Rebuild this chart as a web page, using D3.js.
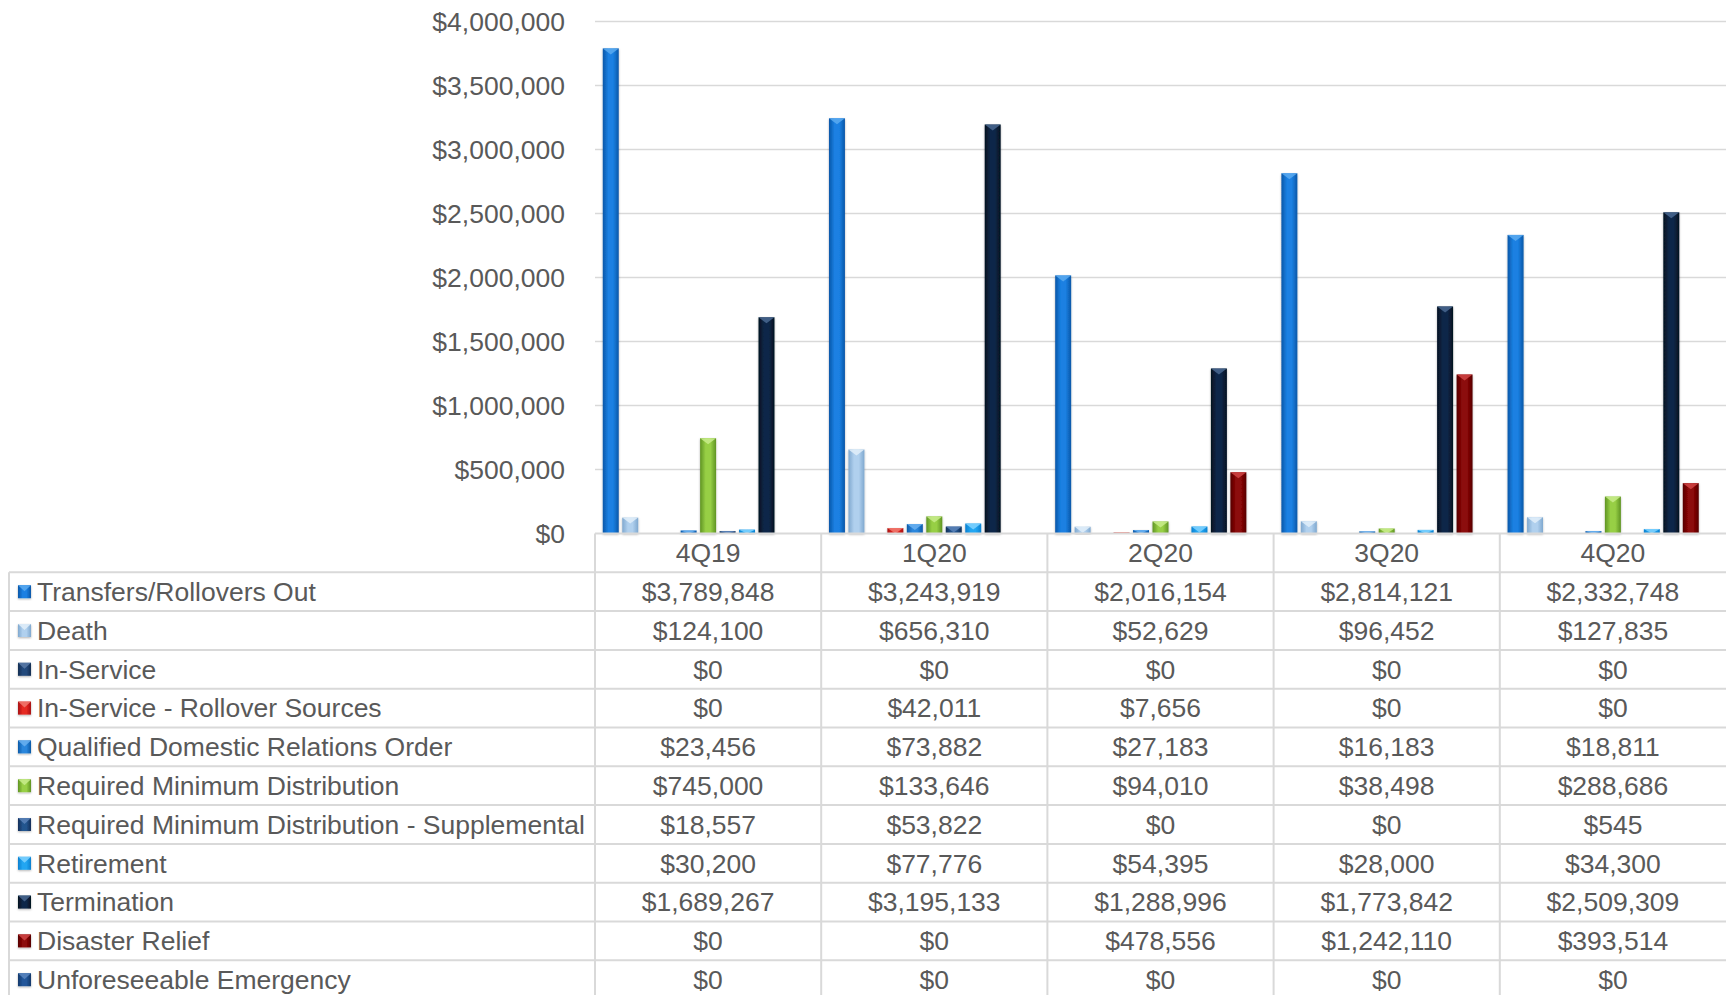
<!DOCTYPE html>
<html>
<head>
<meta charset="utf-8">
<script src="https://cdn.jsdelivr.net/npm/d3@7"></script>
<style>
  body { margin: 0; background: #fff; }
  text { font-family: "Liberation Sans", Arial, sans-serif; fill: #595959; }
</style>
</head>
<body>
<svg id="chart" width="1726" height="995"></svg>
<script>
// quarters along the x axis
var quarters = ["4Q19", "1Q20", "2Q20", "3Q20", "4Q20"];

// one array per distribution type, values
var transfersOut = [3789848, 3243919, 2016154, 2814121, 2332748];
var death = [124100, 656310, 52629, 96452, 127835];
var inService = [0, 0, 0, 0, 0];
var inServiceRollover = [0, 42011, 7656, 0, 0];
var qdro = [23456, 73882, 27183, 16183, 18811];
var rmd = [745000, 133646, 94010, 38498, 288686];
var rmdSupplemental = [18557, 53822, 0, 0, 545];
var retirement = [30200, 77776, 54395, 28000, 34300];
var termination = [1689267, 3195133, 1288996, 1773842, 2509309];
var disasterRelief = [0, 0, 478556, 1242110, 393514];
var unforeseeable = [0, 0, 0, 0, 0];

var seriesNames = [
  "Transfers/Rollovers Out", "Death", "In-Service", "In-Service - Rollover Sources",
  "Qualified Domestic Relations Order", "Required Minimum Distribution",
  "Required Minimum Distribution - Supplemental", "Retirement", "Termination",
  "Disaster Relief", "Unforeseeable Emergency"
];
var seriesValues = [
  transfersOut, death, inService, inServiceRollover, qdro, rmd,
  rmdSupplemental, retirement, termination, disasterRelief, unforeseeable
];

var yTicks = [0, 500000, 1000000, 1500000, 2000000, 2500000, 3000000, 3500000, 4000000];

// [edge, middle, top bevel] for each series
var seriesColors = [
  ["#0a57a8", "#1a80e2", "#5aaaf0"],
  ["#7fa8cf", "#b0d0ee", "#e2eef9"],
  ["#122d52", "#24497c", "#5a7aa8"],
  ["#a81010", "#e52a22", "#f07a70"],
  ["#0d5aa8", "#2a86dc", "#6ab0f0"],
  ["#5f9424", "#97cf45", "#c8ec8c"],
  ["#112f58", "#24548e", "#5a82b8"],
  ["#0a80d0", "#22a6f2", "#80d2ff"],
  ["#04111f", "#0f2748", "#4a6890"],
  ["#560000", "#8c0808", "#d04545"],
  ["#12386a", "#22579a", "#5a86c0"]
];

var svg = d3.select("#chart"),
    width = +svg.attr("width");

var plotLeft = 595,
    plotRight = 1726,
    plotTop = 21.5,
    plotBottom = 533.5,
    rowH = 38.8,
    tableLeft = 9,
    fontSize = "26.5px",
    gridColor = "#d9d9d9";

var x0 = d3.scaleBand()
    .domain(quarters)
    .range([plotLeft, plotRight])
    .padding(0);

var x1 = d3.scaleBand()
    .domain(d3.range(seriesNames.length))
    .range([0, x0.bandwidth()])
    .paddingInner(0.18)
    .paddingOuter(0.4);

var y = d3.scaleLinear()
    .domain([0, 4000000])
    .range([plotBottom, plotTop]);

var money = d3.format("$,");

// gradients and shadow
var defs = svg.append("defs");
seriesColors.forEach(function(c, i) {
  var g = defs.append("linearGradient")
      .attr("id", "grad" + i)
      .attr("x1", "0%").attr("x2", "100%")
      .attr("y1", "0%").attr("y2", "0%");
  g.append("stop").attr("offset", "0%").attr("stop-color", c[0]);
  g.append("stop").attr("offset", "35%").attr("stop-color", c[1]);
  g.append("stop").attr("offset", "65%").attr("stop-color", c[1]);
  g.append("stop").attr("offset", "100%").attr("stop-color", c[0]);
});
var shadow = defs.append("filter").attr("id", "shadow")
    .attr("x", "-50%").attr("y", "-10%").attr("width", "200%").attr("height", "130%");
shadow.append("feDropShadow")
    .attr("dx", 0).attr("dy", 1).attr("stdDeviation", 1.2)
    .attr("flood-color", "#000").attr("flood-opacity", 0.3);

// gridlines and y axis labels
var yAxis = svg.append("g").attr("class", "y-axis");
yAxis.selectAll("line")
  .data(yTicks.filter(function(d) { return d > 0; }))
  .enter().append("line")
    .attr("x1", plotLeft).attr("x2", plotRight)
    .attr("y1", function(d) { return y(d); })
    .attr("y2", function(d) { return y(d); })
    .attr("stroke", gridColor)
    .attr("stroke-width", 1.5);
yAxis.selectAll("text")
  .data(yTicks)
  .enter().append("text")
    .attr("x", plotLeft - 30)
    .attr("y", function(d) { return y(d); })
    .attr("dy", "0.35em")
    .attr("text-anchor", "end")
    .attr("font-size", fontSize)
    .text(function(d) { return money(d); });

// bevelled bar: gradient body plus a light triangle on top
function drawBar(g, x, top, w, h, i) {
  g.append("rect")
    .attr("x", x).attr("y", top)
    .attr("width", w).attr("height", h)
    .attr("fill", "url(#grad" + i + ")")
    .attr("filter", "url(#shadow)");
  var t = Math.min(6, h);
  g.append("polygon")
    .attr("points", [[x, top], [x + w, top], [x + w / 2, top + t]].join(" "))
    .attr("fill", seriesColors[i][2])
    .attr("opacity", 0.85);
}

var bars = svg.append("g").attr("class", "bars");
quarters.forEach(function(q, qi) {
  seriesValues.forEach(function(vals, si) {
    var v = vals[qi];
    if (v <= 0) return;
    var top = y(v), h = plotBottom - top;
    drawBar(bars, x0(q) + x1(si), top, x1.bandwidth(), h, si);
  });
});

// data table underneath the chart
var table = svg.append("g").attr("class", "table");
var headerTop = plotBottom,
    rowsTop = plotBottom + rowH,
    tableBottom = rowsTop + seriesNames.length * rowH;

// horizontal lines
table.append("line")
    .attr("x1", plotLeft).attr("x2", plotRight)
    .attr("y1", headerTop).attr("y2", headerTop)
    .attr("stroke", gridColor).attr("stroke-width", 2);
d3.range(seriesNames.length + 1).forEach(function(r) {
  var ly = rowsTop + r * rowH;
  table.append("line")
      .attr("x1", tableLeft).attr("x2", plotRight)
      .attr("y1", ly).attr("y2", ly)
      .attr("stroke", gridColor).attr("stroke-width", 2);
});
// vertical lines
table.append("line")
    .attr("x1", tableLeft).attr("x2", tableLeft)
    .attr("y1", rowsTop).attr("y2", tableBottom)
    .attr("stroke", gridColor).attr("stroke-width", 2);
quarters.forEach(function(q) {
  table.append("line")
      .attr("x1", x0(q)).attr("x2", x0(q))
      .attr("y1", headerTop).attr("y2", tableBottom)
      .attr("stroke", gridColor).attr("stroke-width", 2);
});

// quarter headers
table.selectAll("text.header")
  .data(quarters)
  .enter().append("text")
    .attr("class", "header")
    .attr("x", function(d) { return x0(d) + x0.bandwidth() / 2; })
    .attr("y", headerTop + rowH / 2)
    .attr("dy", "0.35em")
    .attr("text-anchor", "middle")
    .attr("font-size", fontSize)
    .text(function(d) { return d; });

// legend keys and values
seriesNames.forEach(function(name, si) {
  var cy = rowsTop + si * rowH + rowH / 2;
  drawBar(table, 18, cy - 6.5, 13, 13, si);
  table.append("text")
      .attr("x", 37)
      .attr("y", cy)
      .attr("dy", "0.35em")
      .attr("font-size", fontSize)
      .text(name);
  quarters.forEach(function(q, qi) {
    table.append("text")
        .attr("x", x0(q) + x0.bandwidth() / 2)
        .attr("y", cy)
        .attr("dy", "0.35em")
        .attr("text-anchor", "middle")
        .attr("font-size", fontSize)
        .text(money(seriesValues[si][qi]));
  });
});
</script>
</body>
</html>
